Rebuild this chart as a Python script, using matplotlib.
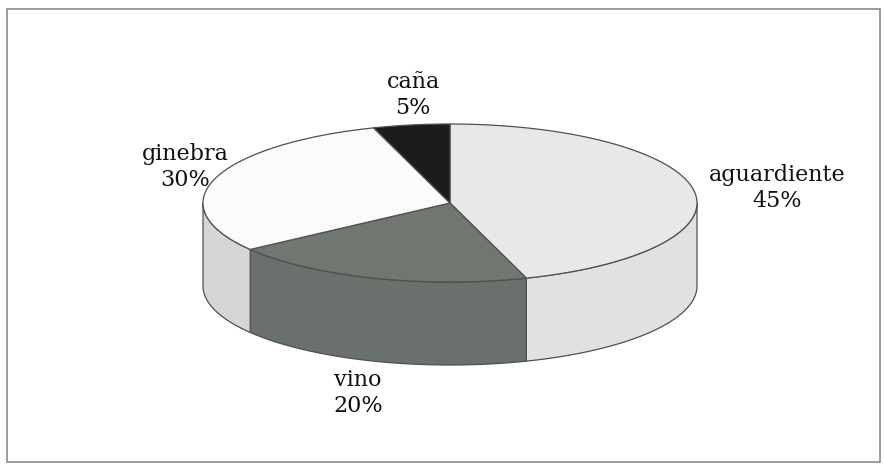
import numpy as np
import matplotlib
matplotlib.use("Agg")
import matplotlib.pyplot as plt
from matplotlib.patches import Polygon, Rectangle

# ---- data ----
categories = ["aguardiente", "vino", "ginebra", "caña"]
shares = [45, 20, 30, 5]
top_colors = ["#e8e8e8", "#707670", "#fbfbfb", "#1c1c1c"]
side_colors = ["#e1e1e1", "#6a706b", "#d6d6d6", "#1c1c1c"]

# ---- layout (pixels) ----
W, H = 884, 465
cx, cy = 450, 203
a, b = 247, 79
depth = 83
edge = "#505050"

label_pos = {
    "aguardiente": (777, 188),
    "vino": (358, 393),
    "ginebra": (185, 167),
    "caña": (413, 95),
}

fig = plt.figure(figsize=(W / 100, H / 100), dpi=100)
ax = fig.add_axes([0, 0, 1, 1])
ax.set_xlim(0, W)
ax.set_ylim(H, 0)
ax.axis("off")

# frame
ax.add_patch(Rectangle((7, 9), 873, 453, fill=False, edgecolor="#8a8a8a", lw=1.2))


def pt(theta, dz=0.0):
    return cx + a * np.cos(theta), cy - b * np.sin(theta) + dz


# angles: start at 12 o'clock, clockwise
total = float(sum(shares))
starts = []
ang = np.pi / 2
for v in shares:
    sweep = 2 * np.pi * v / total
    starts.append((ang - sweep, ang))
    ang -= sweep

# side walls (front half: theta in [-pi, 0])
for (t1, t2), sc in zip(starts, side_colors):
    segs = []
    for shift in (0, 2 * np.pi, -2 * np.pi):
        l, h = max(t1 + shift, -np.pi), min(t2 + shift, 0.0)
        if h > l:
            segs.append((l, h))
    for l, h in segs:
        th = np.linspace(l, h, 80)
        xs, ys = pt(th)
        xb, yb = pt(th[::-1], depth)
        poly = np.column_stack([np.r_[xs, xb], np.r_[ys, yb]])
        ax.add_patch(Polygon(poly, closed=True, facecolor=sc, edgecolor=edge, lw=0.9, zorder=2))

# top faces
for (t1, t2), tc in zip(starts, top_colors):
    th = np.linspace(t1, t2, 120)
    xs, ys = pt(th)
    poly = np.column_stack([np.r_[cx, xs], np.r_[cy, ys]])
    ax.add_patch(Polygon(poly, closed=True, facecolor=tc, edgecolor=edge, lw=0.9, zorder=3))

# labels
for name, v in zip(categories, shares):
    x, y = label_pos[name]
    ax.text(x, y, f"{name}\n{v}%", ha="center", va="center", multialignment="center",
            fontsize=16, family="DejaVu Serif", color="#111111", linespacing=1.22, zorder=5)

fig.savefig("out.png", dpi=100)
